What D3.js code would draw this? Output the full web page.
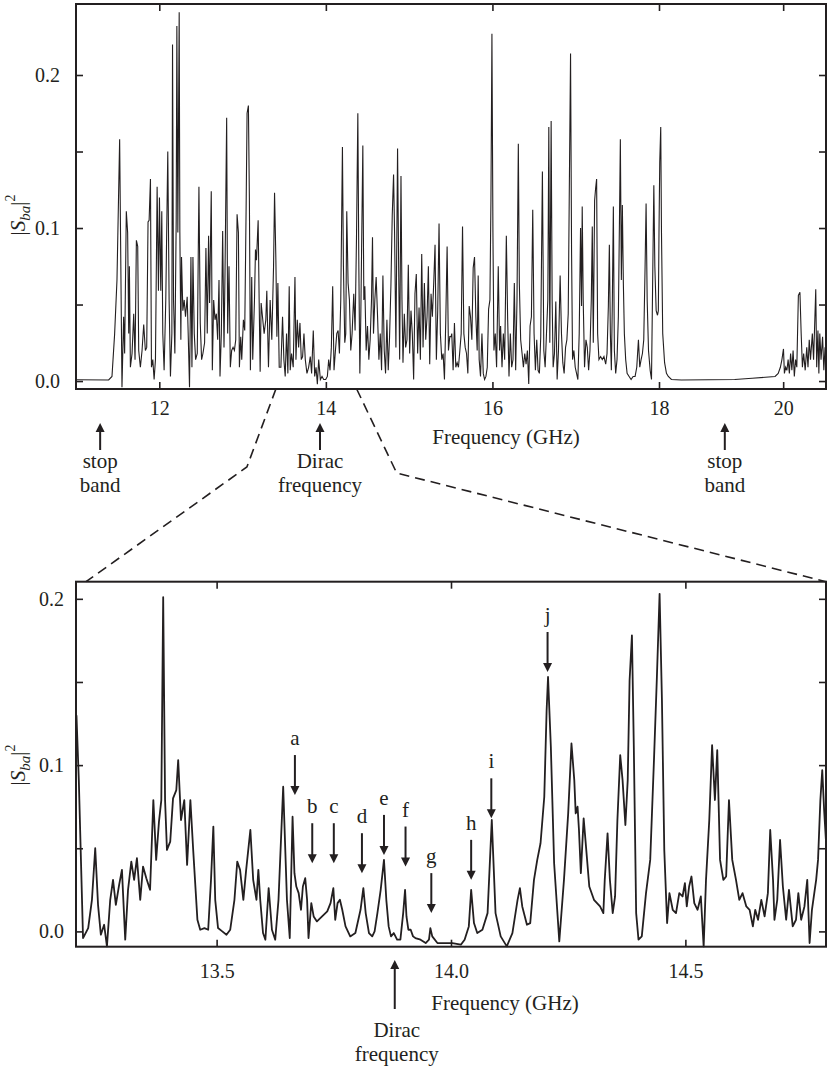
<!DOCTYPE html>
<html>
<head>
<meta charset="utf-8">
<script src="https://cdn.jsdelivr.net/npm/d3@7"></script>
<style>
  body { margin: 0; background: #fff; }
  svg text { font-family: "Liberation Serif", "DejaVu Serif", serif; font-size: 21px; fill: #231f20; }
  svg .tick text { font-size: 20px; }
</style>
</head>
<body>
<script>
const width = 830, height = 1068;
const ink = '#231f20';
const serif = '"Liberation Serif", "DejaVu Serif", serif';

// full-band transmission |S_ba|^2, [frequency GHz, value]
const topA = [[11.0,0.0008],[11.392,0.0007],[11.432,0.003],[11.464,0.031],[11.492,0.066],[11.524,0.158],[11.552,-0.004],[11.572,0.042],[11.584,0.018],[11.604,0.111],[11.620,0.097],[11.633,0.031],[11.641,0.075],[11.653,0.009],[11.673,0.018],[11.693,0.044],[11.709,0.014],[11.725,0.092],[11.741,0.088],[11.753,0.020],[11.773,0.009],[11.793,0.020],[11.813,0.037],[11.833,0.020],[11.849,0.022],[11.865,0.104],[11.878,0.105],[11.894,0.132],[11.906,0.009],[11.922,0.014],[11.938,0.001],[11.954,0.014],[11.974,0.127],[11.990,0.059],[12.002,0.120],[12.018,0.059],[12.030,0.111],[12.042,0.031],[12.058,0.007],[12.078,0.053],[12.102,0.150],[12.118,0.053],[12.134,0.003],[12.151,0.031],[12.159,0.220],[12.171,0.053],[12.187,0.018],[12.203,0.105],[12.211,0.232],[12.223,0.097],[12.239,0.241],[12.247,0.097],[12.259,0.027],[12.267,0.081],[12.283,0.046],[12.299,0.053],[12.315,0.042],[12.335,0.055],[12.347,0.031],[12.363,-0.004],[12.380,0.081],[12.392,0.009],[12.404,0.081],[12.420,0.031],[12.436,0.014],[12.456,0.018],[12.476,0.127],[12.492,0.038],[12.508,0.014],[12.524,0.018],[12.544,0.025],[12.560,0.087],[12.576,0.031],[12.592,0.095],[12.604,0.051],[12.624,0.124],[12.637,0.007],[12.653,0.053],[12.669,0.040],[12.685,0.044],[12.701,0.027],[12.717,0.066],[12.729,0.003],[12.745,0.031],[12.761,0.098],[12.777,0.022],[12.789,0.070],[12.809,0.172],[12.821,0.031],[12.837,0.075],[12.853,0.009],[12.869,0.020],[12.886,0.022],[12.902,0.020],[12.918,0.027],[12.934,0.109],[12.950,0.097],[12.962,0.009],[12.978,0.029],[12.990,0.014],[13.010,0.040],[13.026,0.033],[13.042,0.110],[13.054,0.175],[13.070,0.180],[13.082,0.118],[13.094,0.007],[13.110,0.068],[13.122,0.014],[13.143,0.053],[13.155,0.086],[13.167,0.079],[13.187,0.105],[13.199,0.053],[13.211,0.006],[13.223,0.051],[13.239,0.042],[13.259,0.031],[13.279,0.040]];
const topB = [[13.291,0.059],[13.311,0.009],[13.331,0.053],[13.351,0.027],[13.372,0.075],[13.384,0.123],[13.400,0.079],[13.412,0.029],[13.424,0.064],[13.440,0.009],[13.460,0.009],[13.480,0.042],[13.496,0.014],[13.512,0.003],[13.528,0.031],[13.544,0.005],[13.560,0.062],[13.572,0.007],[13.588,0.018],[13.608,0.009],[13.629,0.068],[13.641,0.014],[13.657,0.040],[13.673,0.022],[13.689,0.038],[13.705,0.014],[13.721,0.016],[13.737,0.031],[13.753,0.014],[13.773,0.005],[13.793,0.009],[13.813,0.016],[13.829,0.005],[13.849,0.033],[13.866,0.003],[13.882,0.009],[13.898,-0.002],[13.914,0.014],[13.934,0.001],[13.954,0.003],[13.974,0.001],[13.998,0.001],[14.018,0.003],[14.034,0.014],[14.050,0.007],[14.066,0.022],[14.082,0.062],[14.098,0.007],[14.115,0.020],[14.131,0.031],[14.147,0.033],[14.163,0.018],[14.179,0.053],[14.199,0.153],[14.211,0.075],[14.227,0.025],[14.239,0.031],[14.251,0.111],[14.267,0.064],[14.283,0.053],[14.299,0.020],[14.315,0.031],[14.335,0.057],[14.351,0.033],[14.368,0.094],[14.384,0.175],[14.396,0.075],[14.408,0.005],[14.420,0.044],[14.444,0.154],[14.456,0.053],[14.468,0.062],[14.484,0.020],[14.500,0.036],[14.516,0.014],[14.532,0.027],[14.548,0.053],[14.560,0.094],[14.572,0.031],[14.588,0.053],[14.604,0.068],[14.621,0.042],[14.637,0.014],[14.653,0.031],[14.669,0.007],[14.685,0.069],[14.701,0.020],[14.717,0.005],[14.733,0.040],[14.749,0.007],[14.765,0.029],[14.781,0.062],[14.797,0.108],[14.813,0.135],[14.825,0.097],[14.841,0.022],[14.861,0.152],[14.874,0.075],[14.886,0.014],[14.902,0.134],[14.914,0.053],[14.926,0.012],[14.942,0.044],[14.958,0.022],[14.974,0.027],[14.990,0.076],[15.006,0.018],[15.022,0.046],[15.038,0.031],[15.054,0.001],[15.070,0.057],[15.086,0.070],[15.102,0.018],[15.119,0.048],[15.135,0.014],[15.151,0.083],[15.167,0.022],[15.183,0.064],[15.199,0.027],[15.215,0.042],[15.231,0.075],[15.247,0.011],[15.263,0.057],[15.279,0.042],[15.295,0.064],[15.311,0.089],[15.327,0.014],[15.343,0.046],[15.359,0.103],[15.375,0.031],[15.392,0.014],[15.408,0.018],[15.424,0.001],[15.440,0.040],[15.456,0.088],[15.472,0.020],[15.488,0.029],[15.504,0.029]];
const topC = [[15.512,0.031],[15.528,0.007],[15.544,0.038],[15.560,0.009],[15.576,0.012],[15.592,0.009],[15.609,0.020],[15.625,0.031],[15.641,0.101],[15.657,0.031],[15.673,0.022],[15.689,0.018],[15.705,0.005],[15.721,0.049],[15.737,0.042],[15.753,0.027],[15.769,0.074],[15.785,0.081],[15.801,0.042],[15.817,0.020],[15.829,0.069],[15.841,0.014],[15.857,0.003],[15.874,0.031],[15.890,0.005],[15.906,0.001],[15.922,0.003],[15.938,0.009],[15.954,0.047],[15.970,0.053],[15.982,0.118],[15.994,0.227],[16.006,0.097],[16.018,0.020],[16.034,0.031],[16.050,0.009],[16.070,0.075],[16.086,0.020],[16.098,0.036],[16.115,0.009],[16.131,0.031],[16.147,0.014],[16.167,0.095],[16.183,0.040],[16.199,0.003],[16.215,0.031],[16.231,0.009],[16.247,0.014],[16.263,0.064],[16.279,0.007],[16.295,0.053],[16.311,0.155],[16.323,0.064],[16.339,0.027],[16.356,0.018],[16.372,0.009],[16.388,0.018],[16.404,0.011],[16.420,0.020],[16.436,-0.002],[16.452,0.036],[16.468,0.042],[16.484,0.112],[16.500,0.031],[16.516,0.007],[16.532,0.027],[16.548,0.007],[16.564,0.005],[16.580,0.029],[16.600,0.137],[16.617,0.020],[16.633,0.009],[16.649,0.031],[16.665,0.053],[16.677,0.166],[16.689,0.025],[16.705,0.170],[16.717,0.053],[16.729,0.009],[16.745,0.018],[16.761,0.052],[16.777,0.001],[16.793,0.020],[16.813,0.069],[16.829,0.031],[16.845,0.012],[16.861,0.005],[16.878,0.022],[16.894,0.027],[16.910,0.044],[16.922,0.118],[16.938,0.214],[16.950,0.086],[16.962,0.014],[16.978,0.020],[16.994,0.009],[17.010,0.005],[17.026,0.001],[17.042,0.031],[17.058,0.100],[17.070,0.049],[17.078,0.114],[17.090,0.053],[17.106,0.009],[17.123,0.027],[17.139,0.022],[17.155,0.007],[17.171,0.020],[17.187,0.053],[17.199,0.101],[17.211,0.025],[17.227,0.118],[17.239,0.126],[17.251,0.132],[17.263,0.031],[17.279,0.014],[17.299,0.016],[17.319,0.014],[17.339,0.016],[17.360,0.011],[17.376,0.018],[17.392,0.049],[17.404,0.089],[17.416,0.031],[17.428,0.007],[17.440,0.053],[17.452,0.114],[17.464,0.020],[17.480,0.005],[17.496,0.014],[17.512,0.042],[17.528,0.118],[17.536,0.158],[17.548,0.066],[17.560,0.115],[17.572,0.064],[17.584,0.031],[17.600,0.014],[17.617,0.005],[17.641,0.003],[17.665,0.001],[17.689,0.003]];
const topD = [[17.713,0.003],[17.733,0.009],[17.753,0.027],[17.769,0.009],[17.785,0.014],[17.801,0.018],[17.817,0.027],[17.833,0.075],[17.845,0.116],[17.858,0.053],[17.874,0.020],[17.894,0.007],[17.910,0.001],[17.926,0.075],[17.938,0.128],[17.950,0.075],[17.966,0.046],[17.982,0.043],[17.992,0.046],[18.0,0.097],[18.012,0.143],[18.028,0.166],[18.04,0.097],[18.06,0.031],[18.09,0.012],[18.12,0.005],[18.15,0.003],[18.2,0.001],[18.36,0.0007],[18.8,0.0008],[19.22,0.001],[19.5,0.0018],[19.87,0.003],[19.92,0.005],[19.955,0.009],[19.98,0.014],[20.005,0.021],[20.02,0.005],[20.04,0.009],[20.06,0.007],[20.08,0.014],[20.10,0.005],[20.12,0.018],[20.14,0.007],[20.16,0.020],[20.18,0.003],[20.20,0.014],[20.22,0.009],[20.245,0.056],[20.27,0.058],[20.29,0.031],[20.31,0.009],[20.33,0.018],[20.355,0.007],[20.38,0.022],[20.40,0.009],[20.42,0.027],[20.44,0.014],[20.47,0.031],[20.49,0.014],[20.51,0.040],[20.525,0.060],[20.54,0.009],[20.56,0.033],[20.575,0.005],[20.59,0.031],[20.61,0.014],[20.635,0.029],[20.655,0.007],[20.675,0.022],[20.69,0.018]];

// zoomed window around the Dirac frequency
const botA = [[13.201,0.130],[13.206,0.091],[13.215,-0.004],[13.226,0.002],[13.234,0.019],[13.241,0.050],[13.247,0.016],[13.253,-0.002],[13.260,0.004],[13.266,-0.009],[13.273,0.019],[13.279,0.031],[13.285,0.016],[13.292,0.028],[13.298,0.037],[13.305,-0.005],[13.311,0.025],[13.318,0.042],[13.324,0.031],[13.330,0.044],[13.337,0.019],[13.343,0.039],[13.350,0.032],[13.358,0.025],[13.365,0.079],[13.371,0.043],[13.377,0.066],[13.382,0.079],[13.386,0.201],[13.390,0.079],[13.394,0.049],[13.401,0.054],[13.407,0.080],[13.414,0.085],[13.418,0.103],[13.424,0.067],[13.431,0.079],[13.437,0.040],[13.444,0.079],[13.450,0.049],[13.459,0.007],[13.465,0.001],[13.474,0.002],[13.482,0.001],[13.488,0.031],[13.493,0.063],[13.497,0.019],[13.503,0.002],[13.512,0.000],[13.521,-0.002],[13.529,0.001],[13.538,0.019],[13.544,0.042],[13.550,0.037],[13.557,0.019],[13.563,0.037],[13.572,0.061],[13.578,0.031],[13.585,0.019],[13.589,0.037],[13.593,0.019],[13.599,-0.001],[13.604,-0.005],[13.611,0.026],[13.618,0.001],[13.625,-0.005],[13.632,0.019],[13.642,0.087],[13.650,0.019],[13.656,-0.004],[13.662,0.069],[13.666,0.035],[13.670,0.027],[13.675,0.023],[13.680,0.013],[13.684,0.027],[13.689,0.032],[13.693,0.019],[13.696,-0.004],[13.702,0.017],[13.707,0.009],[13.714,0.006],[13.725,0.009],[13.736,0.012],[13.743,0.017],[13.749,0.026],[13.753,0.007],[13.758,0.017],[13.763,0.019],[13.768,0.013],[13.775,0.003],[13.785,-0.003],[13.796,-0.001],[13.807,0.013],[13.813,0.026],[13.818,0.011],[13.825,-0.001],[13.832,-0.003],[13.837,0.000],[13.843,0.011],[13.850,0.025],[13.857,0.043],[13.862,0.019],[13.867,0.003],[13.872,-0.003],[13.878,-0.001],[13.885,-0.005],[13.892,-0.005],[13.898,0.011],[13.902,0.025],[13.905,0.009],[13.909,0.001],[13.914,0.001],[13.919,-0.003],[13.924,-0.004],[13.935,-0.005],[13.946,-0.007],[13.953,-0.005],[13.956,0.002],[13.960,-0.003],[13.971,-0.007],[13.985,-0.007],[14.003,-0.007],[14.021,-0.008]];
const botB = [[14.029,-0.005],[14.038,0.003],[14.043,0.025],[14.049,0.005],[14.056,-0.001],[14.067,0.001],[14.078,0.011],[14.087,0.067],[14.095,0.011],[14.106,-0.003],[14.119,-0.009],[14.131,-0.001],[14.142,0.019],[14.147,0.026],[14.152,0.015],[14.162,0.004],[14.169,0.005],[14.177,0.031],[14.184,0.043],[14.191,0.053],[14.199,0.081],[14.204,0.133],[14.207,0.153],[14.213,0.111],[14.220,0.041],[14.231,-0.006],[14.241,0.031],[14.250,0.071],[14.257,0.113],[14.263,0.091],[14.266,0.071],[14.270,0.075],[14.273,0.061],[14.277,0.035],[14.283,0.068],[14.288,0.051],[14.295,0.027],[14.305,0.019],[14.318,0.015],[14.325,0.011],[14.328,0.031],[14.334,0.059],[14.339,0.031],[14.345,0.011],[14.350,0.021],[14.355,0.067],[14.361,0.106],[14.366,0.091],[14.372,0.064],[14.377,0.091],[14.381,0.151],[14.386,0.178],[14.390,0.111],[14.395,0.011],[14.400,-0.005],[14.407,-0.003],[14.416,0.023],[14.425,0.043],[14.433,0.103],[14.439,0.151],[14.445,0.203],[14.450,0.139],[14.455,0.049],[14.461,0.005],[14.466,0.023],[14.473,0.013],[14.480,0.011],[14.487,0.023],[14.494,0.021],[14.499,0.029],[14.503,0.015],[14.508,0.027],[14.513,0.033],[14.519,0.017],[14.526,0.013],[14.533,0.021],[14.539,-0.009],[14.544,0.031],[14.551,0.067],[14.557,0.112],[14.563,0.079],[14.568,0.109],[14.574,0.043],[14.581,0.031],[14.587,0.033],[14.593,0.079],[14.600,0.043],[14.608,0.031],[14.615,0.019],[14.622,0.023],[14.630,0.015],[14.637,0.013],[14.644,0.003],[14.649,0.013],[14.655,0.007],[14.662,0.019],[14.669,0.009],[14.676,0.023],[14.681,0.061],[14.687,0.031],[14.690,0.007],[14.696,0.019],[14.702,0.055],[14.708,0.027],[14.715,0.007],[14.721,0.025],[14.729,0.003],[14.736,0.007],[14.741,0.023],[14.747,0.007],[14.754,0.015],[14.760,0.031],[14.765,-0.007],[14.770,0.013],[14.775,0.023],[14.779,0.031],[14.783,0.043],[14.788,0.079],[14.792,0.097],[14.796,0.073],[14.8,0.054]];

const topXTicks = [12, 14, 16, 18, 20];
const botXTicks = [13.5, 14.0, 14.5];
const yTicks = [0, 0.05, 0.1, 0.15, 0.2];
const yLabelled = [0, 0.1, 0.2];

// annotations: arrows under the full-band panel
const noteFreq = [11.29, 13.93, 19.06];
const noteText = [['stop', 'band'], ['Dirac', 'frequency'], ['stop', 'band']];

// labelled resonances in the zoomed panel
const markLetters = ['a', 'b', 'c', 'd', 'e', 'f', 'g', 'h', 'i', 'j'];
const markFreq = [13.667, 13.704, 13.750, 13.810, 13.857, 13.903, 13.958, 14.043, 14.086, 14.206];
const markTip = [0.082, 0.041, 0.041, 0.035, 0.046, 0.039, 0.011, 0.031, 0.068, 0.156];
const diracZoom = 13.88;
const zoomFrom = [13.4, 14.37];

const topData = [].concat(topA, topB, topC, topD);
const botData = [].concat(botA, botB);

const svg = d3.select('body').append('svg')
    .attr('width', width)
    .attr('height', height)
    .style('font-family', serif);

const xTop = d3.scaleLinear().domain([11, 18, 20.69]).range([76, 659, 826]);
const yTop = d3.scaleLinear().domain([-0.0052, 0.2464]).range([389, 4]);
const xBot = d3.scaleLinear().domain([13.2, 14.8]).range([76, 826]);
const yBot = d3.scaleLinear().domain([-0.0092, 0.2103]).range([946.7, 581.7]);

const fmt1 = d3.format('.1f');

function drawPanel(x, y, xTicks, xFmt, xPad, yPad) {
    const [x0, x1] = d3.extent(x.range());
    const [y1, y0] = y.range();
    const clean = g => {
        g.attr('font-family', null).attr('font-size', null);
        g.select('.domain').remove();
        g.selectAll('.tick line').attr('stroke', ink).attr('stroke-width', 1.6);
    };
    svg.append('g').attr('transform', `translate(0,${y1})`)
        .call(d3.axisBottom(x).tickValues(xTicks).tickSize(-7).tickPadding(xPad).tickFormat(xFmt))
        .call(clean);
    svg.append('g').attr('transform', `translate(0,${y0})`)
        .call(d3.axisTop(x).tickValues(xTicks).tickSize(-7).tickFormat(''))
        .call(clean);
    svg.append('g').attr('transform', `translate(${x0},0)`)
        .call(d3.axisLeft(y).tickValues(yTicks).tickSize(-7).tickPadding(yPad)
            .tickFormat(d => yLabelled.includes(d) ? fmt1(d) : ''))
        .call(clean);
    svg.append('g').attr('transform', `translate(${x1},0)`)
        .call(d3.axisRight(y).tickValues(yTicks).tickSize(-7).tickFormat(''))
        .call(clean);
    svg.append('rect')
        .attr('x', x0).attr('y', y0)
        .attr('width', x1 - x0).attr('height', y1 - y0)
        .attr('fill', 'none').attr('stroke', ink).attr('stroke-width', 2);
}

function yLabel(cx, cy) {
    const t = svg.append('text')
        .attr('transform', `translate(${cx},${cy}) rotate(-90)`)
        .attr('text-anchor', 'middle');
    t.append('tspan').text('|');
    t.append('tspan').attr('font-style', 'italic').text('S');
    t.append('tspan').attr('font-style', 'italic').attr('dy', 5).style('font-size', '15px').text('ba');
    t.append('tspan').attr('dy', -5).text('|');
    t.append('tspan').attr('dy', -10).style('font-size', '14px').text('2');
}

function arrow(x, yTail, yTip) {
    const dir = yTip > yTail ? 1 : -1;
    svg.append('line')
        .attr('x1', x).attr('x2', x)
        .attr('y1', yTail).attr('y2', yTip - dir * 6)
        .attr('stroke', ink).attr('stroke-width', 2);
    svg.append('path')
        .attr('d', `M${x - 4.5},${yTip - dir * 9}L${x + 4.5},${yTip - dir * 9}L${x},${yTip}Z`)
        .attr('fill', ink);
}

drawPanel(xTop, yTop, topXTicks, d => d, 12, 16);
drawPanel(xBot, yBot, botXTicks, fmt1, 17, 12);

const lineTop = d3.line().x(d => xTop(d[0])).y(d => yTop(d[1]));
const lineBot = d3.line().x(d => xBot(d[0])).y(d => yBot(d[1]));

svg.append('path').datum(topData)
    .attr('d', lineTop)
    .attr('fill', 'none').attr('stroke', ink)
    .attr('stroke-width', 1.1).attr('stroke-linejoin', 'miter');

svg.append('path').datum(botData)
    .attr('d', lineBot)
    .attr('fill', 'none').attr('stroke', ink)
    .attr('stroke-width', 1.8).attr('stroke-linejoin', 'round');

// axis titles
svg.append('text').attr('x', 506).attr('y', 444).attr('text-anchor', 'middle').text('Frequency (GHz)');
svg.append('text').attr('x', 505).attr('y', 1010).attr('text-anchor', 'middle').text('Frequency (GHz)');
yLabel(25, 215);
yLabel(25, 765);

// notes under top panel
noteFreq.forEach((f, i) => {
    const x = xTop(f);
    arrow(x, 450, 423);
    noteText[i].forEach((s, k) => {
        svg.append('text').attr('x', x).attr('y', 468 + k * 24)
            .attr('text-anchor', 'middle').text(s);
    });
});

// resonance markers
markLetters.forEach((s, i) => {
    const x = xBot(markFreq[i]);
    const tip = yBot(markTip[i]);
    arrow(x, tip - 40, tip);
    svg.append('text').attr('x', x).attr('y', tip - 50)
        .attr('text-anchor', 'middle').text(s);
});

// Dirac frequency in zoomed panel
const xd = xBot(diracZoom);
arrow(xd, 1009, 960);
svg.append('text').attr('x', xd + 2).attr('y', 1037).attr('text-anchor', 'middle').text('Dirac');
svg.append('text').attr('x', xd + 2).attr('y', 1061).attr('text-anchor', 'middle').text('frequency');

// dashed connectors from the top panel to the zoom window
const yTopAxis = yTop.range()[0];
const yBotFrame = yBot.range()[1];
const connectors = [
    [[xTop(zoomFrom[0]), yTopAxis], [xTop(zoomFrom[0]) - 29, yTopAxis + 78], [xBot.range()[0] + 10, yBotFrame]],
    [[xTop(zoomFrom[1]), yTopAxis], [xTop(zoomFrom[1]) + 40, yTopAxis + 84], [xBot.range()[1], yBotFrame]]
];
connectors.forEach(pts => {
    svg.append('path')
        .attr('d', d3.line()(pts))
        .attr('fill', 'none').attr('stroke', ink)
        .attr('stroke-width', 1.6).attr('stroke-dasharray', '10,6');
});
</script>
</body>
</html>
